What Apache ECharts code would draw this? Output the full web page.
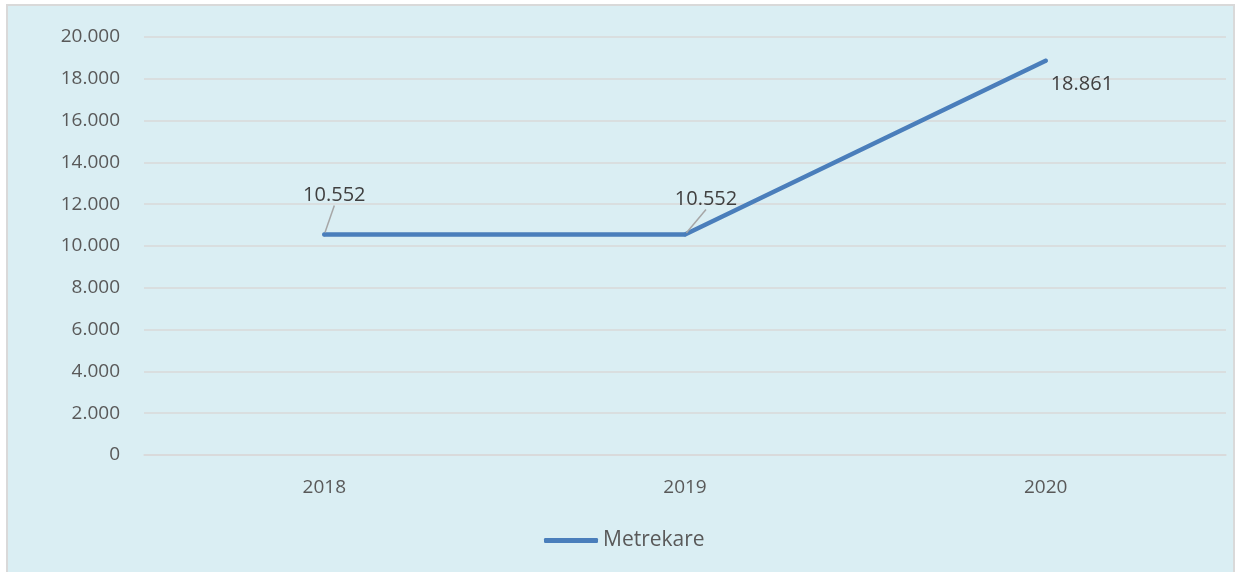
<!DOCTYPE html>
<html>
<head>
<meta charset="utf-8">
<script src="https://cdn.jsdelivr.net/npm/echarts@6/dist/echarts.min.js"></script>
<style>
  html, body { margin: 0; padding: 0; background: #fff; overflow: hidden; }
  #frame {
    position: absolute; left: 6px; top: 4px; width: 1225px; height: 600px;
    background: #daeef3; border: 2px solid #d9d9d9;
  }
  #main { position: absolute; left: 0; top: 0; width: 1236px; height: 572px; }
</style>
</head>
<body>
<div id="frame"></div>
<div id="main"></div>
<script>
var years = ["2018", "2019", "2020"];
var metrekare = [10552, 10552, 18861];
var seriesName = "Metrekare";
// label nudges (dx, dy) per point, like in the picture
var labelShift = [[10, -22], [21, -18], [-2, 23]];

function fmt(v) {
  if (v === 0) return "0";
  return String(v).replace(/\B(?=(\d{3})+(?!\d))/g, ".");
}

var myChart = echarts.init(document.getElementById("main"));
myChart.setOption({
  backgroundColor: "transparent",
  textStyle: { fontFamily: "Open Sans" },
  grid: { left: 144, right: 10, top: 37, bottom: 117 },
  legend: {
    left: 539,
    top: 525,
    icon: "roundRect",
    itemWidth: 54,
    itemHeight: 5,
    textStyle: { color: "#595959", fontSize: 21, fontFamily: "Open Sans" },
    data: [seriesName]
  },
  xAxis: {
    type: "category",
    data: years,
    axisLine: { show: true, lineStyle: { color: "#d9d9d9", width: 1.5 } },
    axisTick: { show: false },
    axisLabel: { color: "#595959", fontSize: 19, margin: 23 }
  },
  yAxis: {
    type: "value",
    min: 0,
    max: 20000,
    interval: 2000,
    axisLine: { show: false },
    axisTick: { show: false },
    splitLine: { lineStyle: { color: "#d9d9d9", width: 1.5 } },
    axisLabel: { color: "#595959", fontSize: 19, margin: 24, formatter: fmt }
  },
  series: [
    {
      name: seriesName,
      type: "line",
      data: metrekare.map(function (v, i) {
        var item = { value: v };
        if (i === 2) {
          item.label = { position: "right" };
          item.labelLine = { show: false };
        }
        return item;
      }),
      showSymbol: true,
      symbol: "circle",
      symbolSize: 4,
      itemStyle: { color: "#4a7ebb" },
      lineStyle: { color: "#4a7ebb", width: 4.5, cap: "round", join: "round" },
      label: {
        show: true,
        position: "top",
        distance: 5,
        color: "#404040",
        fontSize: 20,
        formatter: function (p) { return fmt(p.value); }
      },
      labelLine: { show: true, lineStyle: { color: "#a6a6a6", width: 1.5 } },
      labelLayout: function (p) {
        var s = labelShift[p.dataIndex];
        return { dx: s[0], dy: s[1] };
      }
    }
  ]
});
</script>
</body>
</html>
